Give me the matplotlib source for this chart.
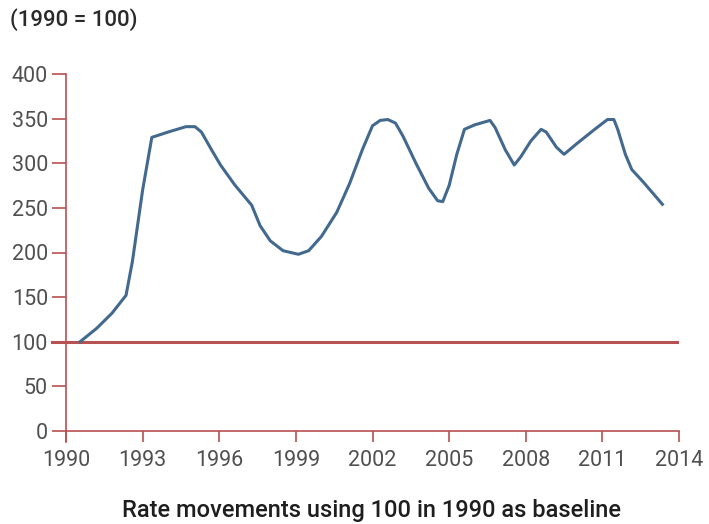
import numpy as np
import matplotlib
matplotlib.use("Agg")
from matplotlib import pyplot as plt

# values (index, 1990 = 100)
years = [1990.55, 1991.2, 1991.8, 1992.35, 1992.6, 1993.0, 1993.36, 1994.0, 1994.7, 1995.05,
         1995.3, 1995.7, 1996.05, 1996.6, 1997.27, 1997.6, 1998.0, 1998.5, 1999.1, 1999.5,
         2000.0, 2000.6, 2001.1, 2001.6, 2002.0, 2002.3, 2002.6, 2002.9, 2003.2, 2003.7,
         2004.2, 2004.55, 2004.75, 2005.0, 2005.3, 2005.6, 2006.0, 2006.6, 2006.8, 2007.2,
         2007.55, 2007.8, 2008.2, 2008.6, 2008.8, 2009.2, 2009.5, 2010.0, 2010.7, 2011.2,
         2011.45, 2011.6, 2011.9, 2012.15, 2012.6, 2013.35]
rate = [100, 115, 132, 152, 190, 270, 329, 335, 341, 341,
        335, 315, 298, 276, 253, 230, 213, 202, 198, 202,
        218, 245, 277, 315, 342, 348, 349, 345, 330, 300,
        272, 258, 257, 275, 310, 338, 343, 348, 340, 315,
        298, 307, 325, 338, 335, 318, 310, 322, 338, 349,
        349, 338, 310, 293, 279, 254]
baseline = 100
xticks = [1990, 1993, 1996, 1999, 2002, 2005, 2008, 2011, 2014]
yticks = [0, 50, 100, 150, 200, 250, 300, 350, 400]

red = '#b85252'
blue = '#436a8e'
txt = '#505050'
plt.rcParams['font.family'] = ['Roboto', 'DejaVu Sans']

fig = plt.figure(figsize=(7.09, 5.24), dpi=100)
ax = fig.add_axes([66 / 709, 1 - 431 / 524, 613 / 709, 357 / 524])

ax.plot(years, rate, color=blue, linewidth=2.2, solid_joinstyle='round', zorder=3)
ax.axhline(baseline, color=red, linewidth=2.2, zorder=2)
# baseline continues through the tick
ax.plot([-14 / 613, 0], [baseline / 400] * 2, transform=ax.transAxes, color=red,
        linewidth=2.2, clip_on=False)

ax.set_xlim(1990, 2014)
ax.set_ylim(0, 400)
ax.set_xticks(xticks)
ax.set_yticks(yticks)
for s in ['top', 'right']:
    ax.spines[s].set_visible(False)
for s in ['left', 'bottom']:
    ax.spines[s].set_color(red)
    ax.spines[s].set_linewidth(1.2)
# extend left spine below the x axis
ax.plot([0, 0], [0, -11 / 357], transform=ax.transAxes, color=red, linewidth=1.2, clip_on=False)
ax.tick_params(axis='y', direction='out', length=10, width=1.2, color=red,
               labelsize=15.5, labelcolor=txt, pad=3)
ax.tick_params(axis='x', direction='out', length=8, width=1.2, color=red,
               labelsize=15.5, labelcolor=txt, pad=6)

fig.text(10 / 709, 1 - 20 / 524, '(1990 = 100)', fontsize=16, fontweight='medium',
         color='#2a2a2a', va='center', ha='left')
fig.text(372 / 709, 1 - 511 / 524, 'Rate movements using 100 in 1990 as baseline',
         fontsize=17, fontweight='medium', color='#1e1e1e', va='center', ha='center')

fig.savefig('out.png', dpi=100)
